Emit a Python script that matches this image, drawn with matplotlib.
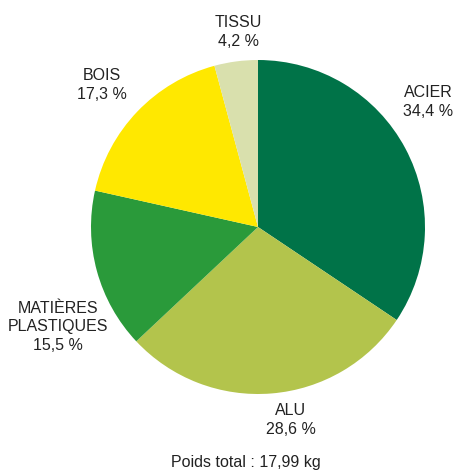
import matplotlib.pyplot as plt

labels = ["ACIER", "ALU", "MATIÈRES\nPLASTIQUES", "BOIS", "TISSU"]
values = [34.4, 28.6, 15.5, 17.3, 4.2]
colors = ["#007348", "#b3c44c", "#2a9a3a", "#ffe800", "#d9e0ad"]
total_label = "Poids total : 17,99 kg"

# pixel helpers: pie centre at (258, 227), radius 167 px
CX, CY, R = 258, 227, 167


def px(x, y):
    return (x - CX) / R, (CY - y) / R


label_pos = [(428, 102), (291, 420), (58, 327), (102, 85), (238, 32)]

plt.rcParams["font.family"] = ["Liberation Sans", "DejaVu Sans"]

fig = plt.figure(figsize=(4.54, 4.72), dpi=100)
ax = fig.add_axes([0, 0, 1, 1])
ax.pie(values, colors=colors, startangle=90, counterclock=False,
       radius=1, wedgeprops=dict(linewidth=0))
ax.set_aspect("auto")
ax.set_xlim(-CX / R, (454 - CX) / R)
ax.set_ylim((CY - 472) / R, CY / R)
ax.axis("off")

for name, val, pos in zip(labels, values, label_pos):
    txt = f"{name}\n{val:.1f} %".replace(".", ",")
    x, y = px(*pos)
    ax.text(x, y, txt, ha="center", va="center", fontsize=11.5,
            color="#222222", linespacing=1.3)

x, y = px(246, 463)
ax.text(x, y, total_label, ha="center", va="center", fontsize=11.5, color="#222222")

fig.savefig("out.png", dpi=100)
